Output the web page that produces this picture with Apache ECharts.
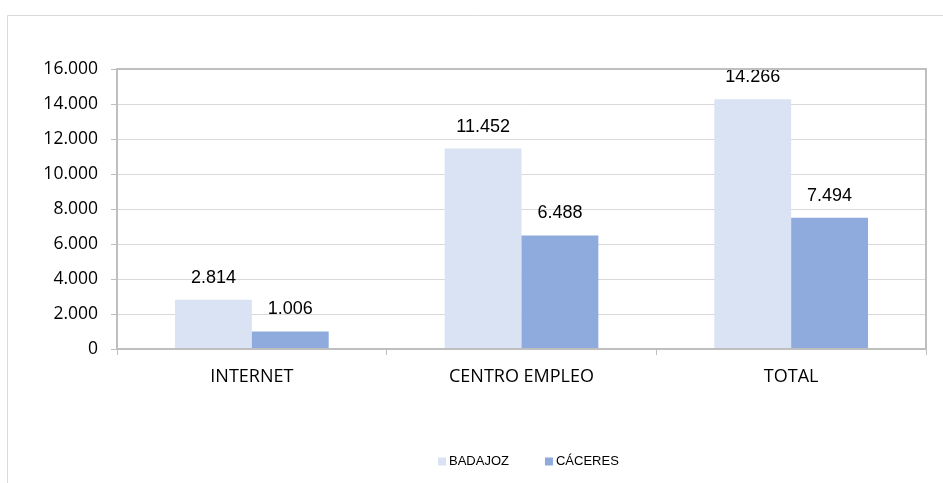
<!DOCTYPE html>
<html>
<head>
<meta charset="utf-8">
<script src="https://cdn.jsdelivr.net/npm/echarts@6/dist/echarts.min.js"></script>
<style>
  html, body { margin: 0; padding: 0; background: #fff; }
  #chart { width: 943px; height: 483px; }
</style>
</head>
<body>
<div id="chart"></div>
<script>
// Ofertas por canal y provincia
const categories = ['INTERNET', 'CENTRO EMPLEO', 'TOTAL'];
const badajoz = [2814, 11452, 14266];
const caceres = [1006, 6488, 7494];
const seriesNames = ['BADAJOZ', 'CÁCERES'];

const fmt = v => String(v).replace(/\B(?=(\d{3})+(?!\d))/g, '.');

const chart = echarts.init(document.getElementById('chart'), null, { renderer: 'canvas' });

const labelStyle = {
  show: true,
  position: 'top',
  distance: 13,
  fontFamily: 'Liberation Sans, Arial, sans-serif',
  fontSize: 18,
  color: '#000',
  formatter: p => fmt(p.value)
};

chart.setOption({
  animation: false,
  backgroundColor: '#fff',
  graphic: [{
    type: 'rect',
    shape: { x: 7.5, y: 15.5, width: 960, height: 500 },
    style: { fill: 'none', stroke: '#d9d9d9', lineWidth: 1 },
    silent: true
  }, {
    type: 'rect',
    shape: { x: 117, y: 69, width: 809, height: 280 },
    style: { fill: 'none', stroke: '#bfbfbf', lineWidth: 2 },
    silent: true,
    z: 10
  }],
  grid: { left: 117, right: 17, top: 69, bottom: 134, containLabel: false },
  legend: {
    data: seriesNames,
    top: 450,
    left: 433,
    itemWidth: 8,
    itemHeight: 8,
    itemGap: 36,
    icon: 'rect',
    textStyle: { fontFamily: 'Liberation Sans, Arial, sans-serif', fontSize: 13, color: '#000', padding: [0, 0, 0, -2] }
  },
  xAxis: {
    type: 'category',
    data: categories,
    axisLine: { show: true, lineStyle: { color: '#bfbfbf', width: 2 } },
    axisTick: { show: true, length: 6, lineStyle: { color: '#bfbfbf' } },
    axisLabel: { margin: 19, fontFamily: 'Open Sans, Noto Sans, sans-serif', fontSize: 18, color: '#000' }
  },
  yAxis: {
    type: 'value',
    min: 0,
    max: 16000,
    interval: 2000,
    axisLine: { show: true, lineStyle: { color: '#bfbfbf', width: 2 } },
    axisTick: { show: true, length: 6, lineStyle: { color: '#bfbfbf' } },
    axisLabel: { margin: 19, fontFamily: 'Open Sans, Noto Sans, sans-serif', fontSize: 17.5, color: '#000', formatter: v => fmt(v) },
    splitLine: { show: true, lineStyle: { color: '#d9d9d9', width: 1 } }
  },
  series: [{
    name: seriesNames[0],
    type: 'bar',
    data: badajoz,
    barGap: '0%',
    barCategoryGap: '43%',
    itemStyle: { color: '#dae3f3' },
    label: labelStyle
  }, {
    name: seriesNames[1],
    type: 'bar',
    data: caceres,
    itemStyle: { color: '#8faadc' },
    label: labelStyle
  }]
});
</script>
</body>
</html>
